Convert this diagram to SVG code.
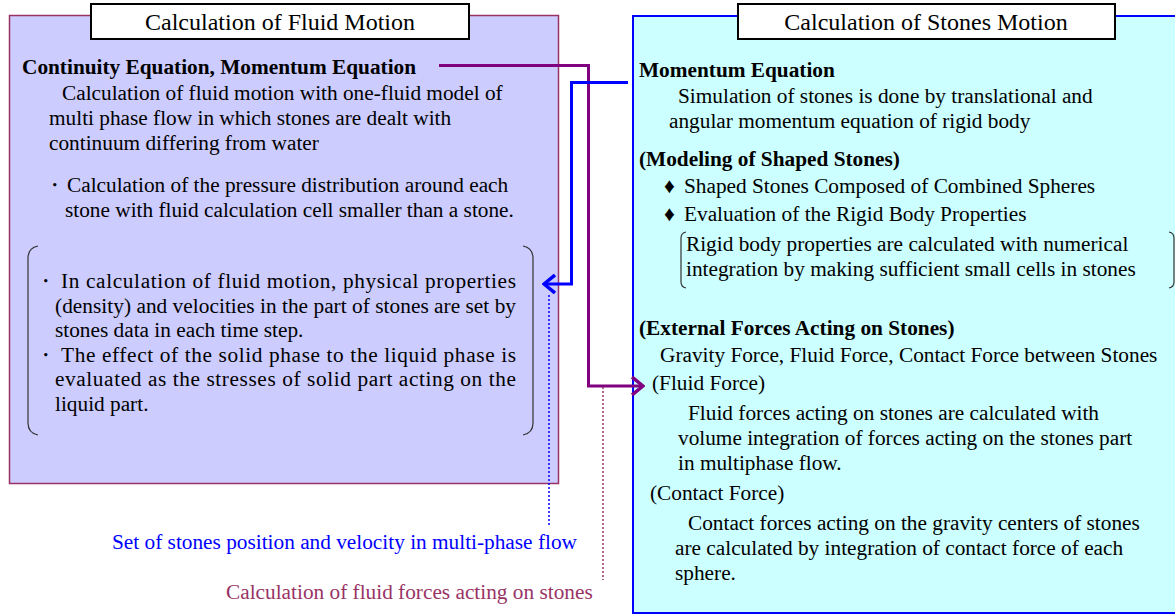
<svg xmlns="http://www.w3.org/2000/svg" width="1175" height="616" viewBox="0 0 1175 616">
<defs>
<style>
.t{font-family:"Liberation Serif","Times New Roman",serif;font-size:21.3px;fill:#000}
.b{font-weight:bold}
.ttl{font-family:"Liberation Serif","Times New Roman",serif;font-size:24px;fill:#000}
.br{fill:none;stroke:#333;stroke-width:1.2}
</style>
<marker id="ah-blue" viewBox="0 0 14 20" refX="12" refY="10" markerWidth="14" markerHeight="20" markerUnits="userSpaceOnUse" orient="auto">
<path d="M1,1 L12,10 L1,19" fill="none" stroke="#0000FF" stroke-width="3.5"/>
</marker>
<marker id="ah-purple" viewBox="0 0 14 20" refX="12" refY="10" markerWidth="14" markerHeight="20" markerUnits="userSpaceOnUse" orient="auto">
<path d="M1,1 L12,10 L1,19" fill="none" stroke="#800080" stroke-width="3.5"/>
</marker>
</defs>
<rect width="1175" height="616" fill="#fff"/>

<g id="fluid">
<rect x="9.5" y="15.5" width="549" height="468" fill="#CCCCFF" stroke="#993366" stroke-width="1.5"/>
<rect x="91" y="4" width="378" height="35" fill="#fff" stroke="#000" stroke-width="2"/>
<text class="ttl" x="280" y="30" text-anchor="middle">Calculation of Fluid Motion</text>
<text class="t b" x="22" y="74">Continuity Equation, Momentum Equation</text>
<text class="t" x="62" y="100">Calculation of fluid motion with one-fluid model of</text>
<text class="t" x="49" y="125">multi phase flow in which stones are dealt with</text>
<text class="t" x="49" y="150">continuum differing from water</text>
<text class="t" x="44" y="192">・</text>
<text class="t" x="67" y="192">Calculation of the pressure distribution around each</text>
<text class="t" x="65" y="217">stone with fluid calculation cell smaller than a stone.</text>
<path class="br" d="M38,246 Q28,248 28,258 L28,423 Q28,433 38,435"/>
<path class="br" d="M523,246 Q533,248 533,258 L533,423 Q533,433 523,435"/>
<text class="t" x="35" y="288">・</text>
<text class="t" x="61" y="288" textLength="455" lengthAdjust="spacing">In calculation of fluid motion, physical properties</text>
<text class="t" x="55" y="313" textLength="461" lengthAdjust="spacing">(density) and velocities in the part of stones are set by</text>
<text class="t" x="55" y="337">stones data in each time step.</text>
<text class="t" x="35" y="362">・</text>
<text class="t" x="61" y="362" textLength="455" lengthAdjust="spacing">The effect of the solid phase to the liquid phase is</text>
<text class="t" x="55" y="386" textLength="461" lengthAdjust="spacing">evaluated as the stresses of solid part acting on the</text>
<text class="t" x="55" y="411">liquid part.</text>
</g>

<g id="stones">
<rect x="633" y="16" width="560" height="597" fill="#CCFFFF" stroke="#0000FF" stroke-width="2"/>
<rect x="738" y="4" width="377" height="35" fill="#fff" stroke="#000" stroke-width="2"/>
<text class="ttl" x="926" y="30" text-anchor="middle">Calculation of Stones Motion</text>
<text class="t b" x="639" y="77">Momentum Equation</text>
<text class="t" x="678" y="103">Simulation of stones is done by translational and</text>
<text class="t" x="669" y="128">angular momentum equation of rigid body</text>
<text class="t b" x="639" y="166">(Modeling of Shaped Stones)</text>
<text class="t" x="664" y="193">♦</text>
<text class="t" x="684" y="193">Shaped Stones Composed of Combined Spheres</text>
<text class="t" x="664" y="221">♦</text>
<text class="t" x="684" y="221">Evaluation of the Rigid Body Properties</text>
<path class="br" d="M686,232 Q681,233 681,238 L681,282 Q681,287 686,288"/>
<path class="br" d="M1169,232 Q1174,233 1174,238 L1174,282 Q1174,287 1169,288"/>
<text class="t" x="686" y="251">Rigid body properties are calculated with numerical</text>
<text class="t" x="686" y="276">integration by making sufficient small cells in stones</text>
<text class="t b" x="639" y="335">(External Forces Acting on Stones)</text>
<text class="t" x="660" y="362">Gravity Force, Fluid Force, Contact Force between Stones</text>
<text class="t" x="652" y="390">(Fluid Force)</text>
<text class="t" x="688" y="420">Fluid forces acting on stones are calculated with</text>
<text class="t" x="678" y="445">volume integration of forces acting on the stones part</text>
<text class="t" x="678" y="470">in multiphase flow.</text>
<text class="t" x="650" y="500">(Contact Force)</text>
<text class="t" x="688" y="530">Contact forces acting on the gravity centers of stones</text>
<text class="t" x="675" y="555">are calculated by integration of contact force of each</text>
<text class="t" x="675" y="580">sphere.</text>
</g>

<g id="connectors">
<path d="M439,65.5 L588.5,65.5 L588.5,386 L643,386" fill="none" stroke="#800080" stroke-width="3" marker-end="url(#ah-purple)"/>
<path d="M628,82.5 L571.5,82.5 L571.5,284 L544,284" fill="none" stroke="#0000FF" stroke-width="3" marker-end="url(#ah-blue)"/>
<line x1="549" y1="295" x2="549" y2="527" stroke="#0000FF" stroke-width="1.5" stroke-dasharray="2,2"/>
<line x1="603" y1="387" x2="603" y2="580" stroke="#993366" stroke-width="1.5" stroke-dasharray="2,2"/>
</g>

<g id="labels">
<text class="t" x="112" y="549" style="fill:#0000FF">Set of stones position and velocity in multi-phase flow</text>
<text class="t" x="226" y="599" style="fill:#993366">Calculation of fluid forces acting on stones</text>
</g>
</svg>
